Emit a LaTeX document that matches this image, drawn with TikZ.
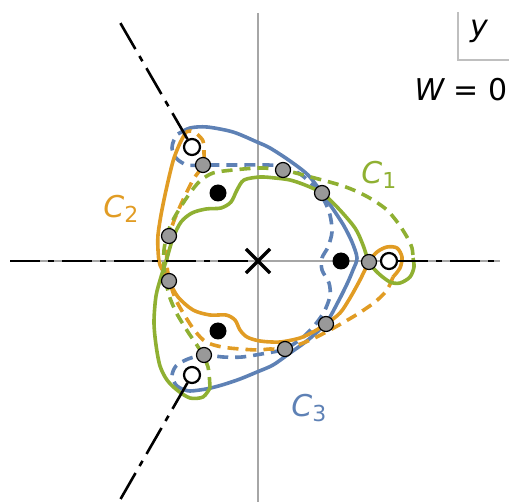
\documentclass[tikz,border=0pt]{standalone}
\usepackage{fontspec}
\setmainfont{DejaVu Sans}
\usepackage{tikz}
\usetikzlibrary{shapes.misc}
\definecolor{cblue}{RGB}{94,129,181}
\definecolor{corange}{RGB}{225,156,36}
\definecolor{cgreen}{RGB}{143,176,50}
\newcommand{\lsub}[1]{\raisebox{-2.5pt}{\upshape\fontsize{11}{11}\selectfont #1}}

\begin{document}
\begin{tikzpicture}[
    x=0.5pt, y=-0.5pt,
    curve/.style={line width=1.8pt, line join=round},
    sheet/.style={curve, dash pattern=on 5.5pt off 3.5pt},
    cut/.style={draw, black, line width=1.3pt, dash pattern=on 15pt off 4pt on 3pt off 4pt},
    axis/.style={draw, black!35, line width=0.75pt},
    branch/.style={circle, draw, fill=white, line width=1.1pt, minimum size=8pt, inner sep=0pt},
    pole/.style={circle, fill=black, minimum size=8.5pt, inner sep=0pt},
    meet/.style={circle, draw, fill=gray!80, line width=0.6pt, minimum size=7.5pt, inner sep=0pt},
    lbl/.style={inner sep=0pt, font=\fontsize{15}{17}\selectfont}
]
    \useasboundingbox (0,0) rectangle (509,502);

    \draw [axis] (258,13) -- (258,502);
    \draw [axis] (10,261) -- (500,261);
    \draw [black!25, line width=0.6pt] (458,12) -- (458,60) -- (509,60);

    % C3
    \draw [curve, cblue] plot [smooth] coordinates {(182,389) (190,391) (206,389) (222,385) (240,379) (257,372) (273,365) (290,353) (308,340) (326,323) (338,302) (347,284) (353,270) (357,258) (352,242) (344,226) (335,212) (322,193) (308,175) (290,161) (270,148) (257,142) (233,132) (207,127) (190,128) (178,134)};
    \draw [sheet, cblue] plot [smooth] coordinates {(182,389) (176,385) (172,376) (176,366) (188,359) (204,355) (223,357) (242,357) (267,353) (285,349) (302,338) (314,326) (324,312) (330,296) (329,283) (322,270) (322,258) (328,247) (332,232) (330,215) (324,200) (315,187) (300,174) (283,166) (260,165) (233,165) (203,165) (187,165) (176,158) (172,148) (174,140) (178,134)};

    % C2
    \draw [curve, corange] plot [smooth] coordinates {(186,132) (180,143) (174,158) (170,173) (165,195) (161,215) (158,235) (158,250) (160,265) (169,281) (178,297) (193,310) (210,315) (226,315) (235,320) (240,330) (247,337) (260,341) (280,342) (300,338) (313,332) (326,324) (340,313) (350,298) (360,280) (369,262) (377,252) (387,247) (397,248) (402,257) (400,268) (393,277)};
    \draw [sheet, corange] plot [smooth] coordinates {(393,277) (387,290) (375,302) (356,315) (330,330) (308,341) (285,349) (270,349) (258,350) (240,349) (222,347) (206,342) (195,331) (185,316) (176,300) (170,283) (167,266) (167,250) (169,236) (175,218) (183,200) (193,180) (203,165) (204,152) (203,141) (197,134) (191,131) (186,132)};

    % C1
    \draw [curve, cgreen] plot [smooth] coordinates {(413,258) (414,267) (410,277) (400,283) (390,282) (378,273) (369,262) (363,245) (355,228) (338,208) (322,193) (305,185) (290,180) (275,178) (260,177) (244,180) (237,190) (231,202) (221,208) (206,209) (192,213) (181,222) (173,238) (167,258) (161,277) (156,296) (154,322) (156,345) (160,366) (167,380) (177,390) (190,398) (203,397) (210,388)};
    \draw [sheet, cgreen] plot [smooth] coordinates {(210,388) (208,367) (200,350) (188,332) (177,314) (170,298) (166,282) (164,266) (164,250) (167,235) (172,222) (180,208) (190,193) (200,181) (213,173) (233,170) (260,168) (283,170) (307,176) (340,185) (358,192) (373,200) (387,210) (398,223) (407,237) (412,248) (413,258)};

    \node [draw, cross out, line width=1.6pt, minimum size=10.5pt, inner sep=0pt] (o) at (258,261) {};
    \node [branch] (b0) at (389,261) {};
    \node [branch] (b1) at (192,147) {};
    \node [branch] (b2) at (192,375) {};

    \coordinate (e0) at (500,261);
    \coordinate (e1) at (118,19);
    \coordinate (e2) at (120,500);
    \coordinate (e3) at (10,261);
    \draw [cut] (e3) -- (o.center);
    \draw [cut] (b0) -- (e0);
    \draw [cut] (b1) -- (e1);
    \draw [cut] (b2) -- (e2);

    \node [pole] (p0) at (341,261) {};
    \node [pole] (p1) at (218,193) {};
    \node [pole] (p2) at (218,331) {};

    \node [meet] (m1) at (369,262) {};
    \node [meet] (m2) at (322,193) {};
    \node [meet] (m3) at (283,170) {};
    \node [meet] (m4) at (203,165) {};
    \node [meet] (m5) at (169,236) {};
    \node [meet] (m6) at (169,281) {};
    \node [meet] (m7) at (204,355) {};
    \node [meet] (m8) at (285,349) {};
    \node [meet] (m9) at (326,324) {};

    \node [lbl, text=cgreen, anchor=base west] (cone) at (361,184) {\itshape C\lsub{1}};
    \node [lbl, text=corange, anchor=base west] (ctwo) at (103,218) {\itshape C\lsub{2}};
    \node [lbl, text=cblue, anchor=base west] (cthree) at (291,416) {\itshape C\lsub{3}};
    \node [lbl, anchor=base] (ylab) at (479,37) {\itshape y};
    \node [lbl, anchor=base east] (wlab) at (508,101) {{\itshape W} = 0};
\end{tikzpicture}
\end{document}
